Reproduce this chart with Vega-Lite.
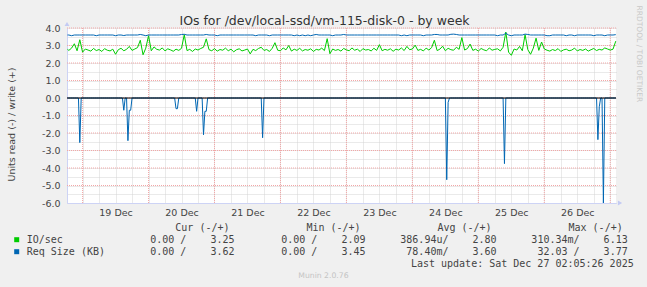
{
 "$schema": "https://vega.github.io/schema/vega-lite/v6.json",
 "width": 549,
 "height": 175,
 "autosize": {"type": "none"},
 "padding": {"left": 67, "top": 28, "right": 31, "bottom": 84},
 "background": "#f0f0f0",
 "title": {"text": "IOs for /dev/local-ssd/vm-115-disk-0 - by week", "font": "DejaVu Sans", "fontSize": 12.5, "fontWeight": "normal", "color": "#333333", "anchor": "middle", "frame": "group", "dx": -17, "baseline": "middle", "offset": -28.5},
 "config": {"view": {"fill": "white", "stroke": null}, "font": "DejaVu Sans"},
 "datasets": {
  "series": [
   {"t":"2025-12-18T18:30","g":2.78,"b":3.6},{"t":"2025-12-18T19:00","g":2.72,"b":3.6},{"t":"2025-12-18T20:00","g":2.85,"b":3.56},{"t":"2025-12-18T21:00","g":3.10,"b":3.6},{"t":"2025-12-18T22:00","g":2.70,"b":3.6},{"t":"2025-12-18T23:00","g":3.33,"b":3.6},
   {"t":"2025-12-19T00:00","g":2.62,"b":3.6},{"t":"2025-12-19T01:00","g":2.80,"b":3.6},{"t":"2025-12-19T02:00","g":2.74,"b":3.6},{"t":"2025-12-19T03:00","g":2.68,"b":3.6},{"t":"2025-12-19T04:00","g":2.83,"b":3.6},{"t":"2025-12-19T05:00","g":2.71,"b":3.56},{"t":"2025-12-19T06:00","g":2.77,"b":3.6},{"t":"2025-12-19T07:00","g":2.66,"b":3.6},{"t":"2025-12-19T08:00","g":2.82,"b":3.6},{"t":"2025-12-19T09:00","g":2.73,"b":3.6},{"t":"2025-12-19T10:00","g":2.69,"b":3.6},{"t":"2025-12-19T11:00","g":2.79,"b":3.6},{"t":"2025-12-19T12:00","g":2.50,"b":3.56},{"t":"2025-12-19T13:00","g":2.76,"b":3.6},{"t":"2025-12-19T14:00","g":2.84,"b":3.6},{"t":"2025-12-19T15:00","g":2.70,"b":3.57},{"t":"2025-12-19T16:00","g":2.78,"b":3.6},{"t":"2025-12-19T17:00","g":2.95,"b":3.6},{"t":"2025-12-19T18:00","g":2.72,"b":3.6},{"t":"2025-12-19T19:00","g":2.80,"b":3.6},{"t":"2025-12-19T20:00","g":2.88,"b":3.6},{"t":"2025-12-19T21:00","g":3.30,"b":3.63},{"t":"2025-12-19T22:00","g":2.47,"b":3.6},{"t":"2025-12-19T23:00","g":2.85,"b":3.56},
   {"t":"2025-12-20T00:00","g":3.56,"b":3.6},{"t":"2025-12-20T01:00","g":2.70,"b":3.6},{"t":"2025-12-20T02:00","g":2.92,"b":3.6},{"t":"2025-12-20T03:00","g":2.78,"b":3.6},{"t":"2025-12-20T04:00","g":2.74,"b":3.6},{"t":"2025-12-20T05:00","g":2.86,"b":3.6},{"t":"2025-12-20T06:00","g":2.69,"b":3.6},{"t":"2025-12-20T07:00","g":2.81,"b":3.6},{"t":"2025-12-20T08:00","g":2.75,"b":3.6},{"t":"2025-12-20T09:00","g":2.67,"b":3.6},{"t":"2025-12-20T10:00","g":2.79,"b":3.6},{"t":"2025-12-20T11:00","g":2.72,"b":3.6},{"t":"2025-12-20T12:00","g":2.84,"b":3.63},{"t":"2025-12-20T13:00","g":3.62,"b":3.64},{"t":"2025-12-20T14:00","g":2.71,"b":3.6},{"t":"2025-12-20T15:00","g":2.78,"b":3.6},{"t":"2025-12-20T16:00","g":2.66,"b":3.6},{"t":"2025-12-20T17:00","g":2.80,"b":3.6},{"t":"2025-12-20T18:00","g":2.74,"b":3.6},{"t":"2025-12-20T19:00","g":2.83,"b":3.6},{"t":"2025-12-20T20:00","g":2.90,"b":3.6},{"t":"2025-12-20T21:00","g":3.38,"b":3.63},{"t":"2025-12-20T22:00","g":2.76,"b":3.6},{"t":"2025-12-20T23:00","g":2.70,"b":3.6},
   {"t":"2025-12-21T00:00","g":2.82,"b":3.6},{"t":"2025-12-21T01:00","g":2.68,"b":3.56},{"t":"2025-12-21T02:00","g":2.77,"b":3.6},{"t":"2025-12-21T03:00","g":2.73,"b":3.6},{"t":"2025-12-21T04:00","g":2.85,"b":3.6},{"t":"2025-12-21T05:00","g":2.70,"b":3.6},{"t":"2025-12-21T06:00","g":2.79,"b":3.6},{"t":"2025-12-21T07:00","g":2.64,"b":3.6},{"t":"2025-12-21T08:00","g":2.76,"b":3.6},{"t":"2025-12-21T09:00","g":2.81,"b":3.6},{"t":"2025-12-21T10:00","g":2.69,"b":3.6},{"t":"2025-12-21T11:00","g":2.74,"b":3.6},{"t":"2025-12-21T12:00","g":2.80,"b":3.6},{"t":"2025-12-21T13:00","g":2.52,"b":3.6},{"t":"2025-12-21T14:00","g":2.78,"b":3.6},{"t":"2025-12-21T15:00","g":2.71,"b":3.56},{"t":"2025-12-21T16:00","g":2.83,"b":3.6},{"t":"2025-12-21T17:00","g":2.90,"b":3.6},{"t":"2025-12-21T18:00","g":2.72,"b":3.6},{"t":"2025-12-21T19:00","g":2.77,"b":3.6},{"t":"2025-12-21T20:00","g":2.66,"b":3.56},{"t":"2025-12-21T21:00","g":2.84,"b":3.6},{"t":"2025-12-21T22:00","g":3.16,"b":3.6},{"t":"2025-12-21T23:00","g":2.73,"b":3.6},
   {"t":"2025-12-22T00:00","g":2.70,"b":3.6},{"t":"2025-12-22T01:00","g":2.86,"b":3.6},{"t":"2025-12-22T02:00","g":2.75,"b":3.6},{"t":"2025-12-22T03:00","g":3.00,"b":3.6},{"t":"2025-12-22T04:00","g":2.68,"b":3.6},{"t":"2025-12-22T05:00","g":2.79,"b":3.56},{"t":"2025-12-22T06:00","g":2.72,"b":3.6},{"t":"2025-12-22T07:00","g":2.84,"b":3.56},{"t":"2025-12-22T08:00","g":2.69,"b":3.6},{"t":"2025-12-22T09:00","g":2.77,"b":3.56},{"t":"2025-12-22T10:00","g":2.73,"b":3.6},{"t":"2025-12-22T11:00","g":2.81,"b":3.56},{"t":"2025-12-22T12:00","g":2.66,"b":3.6},{"t":"2025-12-22T13:00","g":2.78,"b":3.63},{"t":"2025-12-22T14:00","g":2.74,"b":3.6},{"t":"2025-12-22T15:00","g":2.85,"b":3.6},{"t":"2025-12-22T16:00","g":2.71,"b":3.6},{"t":"2025-12-22T17:00","g":3.39,"b":3.6},{"t":"2025-12-22T18:00","g":2.53,"b":3.6},{"t":"2025-12-22T19:00","g":2.80,"b":3.56},{"t":"2025-12-22T20:00","g":2.72,"b":3.6},{"t":"2025-12-22T21:00","g":2.77,"b":3.6},{"t":"2025-12-22T22:00","g":2.68,"b":3.6},{"t":"2025-12-22T23:00","g":2.83,"b":3.63},
   {"t":"2025-12-23T00:00","g":2.75,"b":3.6},{"t":"2025-12-23T01:00","g":2.70,"b":3.6},{"t":"2025-12-23T02:00","g":2.86,"b":3.6},{"t":"2025-12-23T03:00","g":2.73,"b":3.6},{"t":"2025-12-23T04:00","g":2.79,"b":3.6},{"t":"2025-12-23T05:00","g":2.66,"b":3.6},{"t":"2025-12-23T06:00","g":2.82,"b":3.6},{"t":"2025-12-23T07:00","g":2.74,"b":3.6},{"t":"2025-12-23T08:00","g":2.77,"b":3.6},{"t":"2025-12-23T09:00","g":2.69,"b":3.6},{"t":"2025-12-23T10:00","g":2.84,"b":3.6},{"t":"2025-12-23T11:00","g":2.72,"b":3.6},{"t":"2025-12-23T12:00","g":3.05,"b":3.6},{"t":"2025-12-23T13:00","g":2.70,"b":3.6},{"t":"2025-12-23T14:00","g":2.78,"b":3.6},{"t":"2025-12-23T15:00","g":2.73,"b":3.6},{"t":"2025-12-23T16:00","g":2.81,"b":3.6},{"t":"2025-12-23T17:00","g":2.67,"b":3.6},{"t":"2025-12-23T18:00","g":2.79,"b":3.6},{"t":"2025-12-23T19:00","g":2.74,"b":3.6},{"t":"2025-12-23T20:00","g":2.86,"b":3.56},{"t":"2025-12-23T21:00","g":2.71,"b":3.6},{"t":"2025-12-23T22:00","g":2.95,"b":3.56},{"t":"2025-12-23T23:00","g":2.76,"b":3.6},
   {"t":"2025-12-24T00:00","g":2.80,"b":3.6},{"t":"2025-12-24T01:00","g":3.02,"b":3.6},{"t":"2025-12-24T02:00","g":2.72,"b":3.6},{"t":"2025-12-24T03:00","g":2.78,"b":3.6},{"t":"2025-12-24T04:00","g":2.69,"b":3.56},{"t":"2025-12-24T05:00","g":2.85,"b":3.6},{"t":"2025-12-24T06:00","g":2.74,"b":3.6},{"t":"2025-12-24T07:00","g":2.88,"b":3.6},{"t":"2025-12-24T08:00","g":3.30,"b":3.63},{"t":"2025-12-24T09:00","g":2.71,"b":3.63},{"t":"2025-12-24T10:00","g":2.79,"b":3.6},{"t":"2025-12-24T11:00","g":2.96,"b":3.6},{"t":"2025-12-24T12:00","g":2.70,"b":3.6},{"t":"2025-12-24T13:00","g":2.84,"b":3.6},{"t":"2025-12-24T14:00","g":2.76,"b":3.64},{"t":"2025-12-24T15:00","g":2.73,"b":3.65},{"t":"2025-12-24T16:00","g":2.90,"b":3.63},{"t":"2025-12-24T17:00","g":2.78,"b":3.6},{"t":"2025-12-24T18:00","g":3.45,"b":3.6},{"t":"2025-12-24T19:00","g":2.74,"b":3.6},{"t":"2025-12-24T20:00","g":2.82,"b":3.6},{"t":"2025-12-24T21:00","g":3.08,"b":3.6},{"t":"2025-12-24T22:00","g":2.72,"b":3.6},{"t":"2025-12-24T23:00","g":2.79,"b":3.6},
   {"t":"2025-12-25T00:00","g":2.68,"b":3.6},{"t":"2025-12-25T01:00","g":2.83,"b":3.6},{"t":"2025-12-25T02:00","g":2.75,"b":3.6},{"t":"2025-12-25T03:00","g":2.70,"b":3.6},{"t":"2025-12-25T04:00","g":2.86,"b":3.6},{"t":"2025-12-25T05:00","g":2.73,"b":3.6},{"t":"2025-12-25T06:00","g":2.78,"b":3.6},{"t":"2025-12-25T07:00","g":2.81,"b":3.56},{"t":"2025-12-25T08:00","g":2.69,"b":3.6},{"t":"2025-12-25T09:00","g":2.90,"b":3.6},{"t":"2025-12-25T10:00","g":3.77,"b":3.70},{"t":"2025-12-25T11:00","g":2.62,"b":3.6},{"t":"2025-12-25T12:00","g":2.44,"b":3.56},{"t":"2025-12-25T13:00","g":2.80,"b":3.6},{"t":"2025-12-25T14:00","g":2.74,"b":3.6},{"t":"2025-12-25T15:00","g":2.95,"b":3.6},{"t":"2025-12-25T16:00","g":2.70,"b":3.6},{"t":"2025-12-25T17:00","g":3.62,"b":3.65},{"t":"2025-12-25T18:00","g":2.76,"b":3.63},{"t":"2025-12-25T19:00","g":2.50,"b":3.6},{"t":"2025-12-25T20:00","g":2.85,"b":3.6},{"t":"2025-12-25T21:00","g":3.42,"b":3.6},{"t":"2025-12-25T22:00","g":2.72,"b":3.6},{"t":"2025-12-25T23:00","g":3.20,"b":3.6},
   {"t":"2025-12-26T00:00","g":2.80,"b":3.6},{"t":"2025-12-26T01:00","g":2.73,"b":3.56},{"t":"2025-12-26T02:00","g":2.68,"b":3.56},{"t":"2025-12-26T03:00","g":2.77,"b":3.6},{"t":"2025-12-26T04:00","g":2.71,"b":3.6},{"t":"2025-12-26T05:00","g":2.82,"b":3.6},{"t":"2025-12-26T06:00","g":2.66,"b":3.6},{"t":"2025-12-26T07:00","g":2.75,"b":3.6},{"t":"2025-12-26T08:00","g":2.79,"b":3.56},{"t":"2025-12-26T09:00","g":2.70,"b":3.6},{"t":"2025-12-26T10:00","g":2.74,"b":3.6},{"t":"2025-12-26T11:00","g":2.85,"b":3.56},{"t":"2025-12-26T12:00","g":2.69,"b":3.6},{"t":"2025-12-26T13:00","g":2.77,"b":3.6},{"t":"2025-12-26T14:00","g":2.72,"b":3.6},{"t":"2025-12-26T15:00","g":2.80,"b":3.6},{"t":"2025-12-26T16:00","g":2.68,"b":3.6},{"t":"2025-12-26T17:00","g":2.76,"b":3.6},{"t":"2025-12-26T18:00","g":2.83,"b":3.56},{"t":"2025-12-26T19:00","g":2.71,"b":3.6},{"t":"2025-12-26T20:00","g":2.78,"b":3.6},{"t":"2025-12-26T21:00","g":2.74,"b":3.6},{"t":"2025-12-26T22:00","g":2.86,"b":3.56},{"t":"2025-12-26T23:00","g":2.80,"b":3.6},
   {"t":"2025-12-27T00:00","g":2.74,"b":3.6},{"t":"2025-12-27T01:00","g":2.79,"b":3.6},{"t":"2025-12-27T02:00","g":3.25,"b":3.62}
  ],
  "reads": [
   {"t":"2025-12-18T18:30","v":0},{"t":"2025-12-18T22:30","v":0},{"t":"2025-12-18T23:00","v":-2.55},{"t":"2025-12-18T23:30","v":0},
   {"t":"2025-12-19T14:30","v":0},{"t":"2025-12-19T15:00","v":-0.7},{"t":"2025-12-19T15:30","v":0},{"t":"2025-12-19T16:00","v":0},{"t":"2025-12-19T16:30","v":-2.44},{"t":"2025-12-19T17:00","v":-0.7},{"t":"2025-12-19T17:30","v":-0.7},{"t":"2025-12-19T18:00","v":0},
   {"t":"2025-12-20T09:30","v":0},{"t":"2025-12-20T10:00","v":-0.61},{"t":"2025-12-20T10:30","v":-0.61},{"t":"2025-12-20T11:00","v":0},
   {"t":"2025-12-20T17:00","v":0},{"t":"2025-12-20T17:30","v":-0.76},{"t":"2025-12-20T18:00","v":0},
   {"t":"2025-12-20T19:30","v":0},{"t":"2025-12-20T20:00","v":-2.1},{"t":"2025-12-20T20:30","v":-0.76},{"t":"2025-12-20T21:00","v":-0.76},{"t":"2025-12-20T21:30","v":0},
   {"t":"2025-12-21T17:00","v":0},{"t":"2025-12-21T17:30","v":-2.27},{"t":"2025-12-21T18:00","v":0},
   {"t":"2025-12-24T12:00","v":0},{"t":"2025-12-24T12:30","v":-4.67},{"t":"2025-12-24T13:00","v":-0.25},{"t":"2025-12-24T13:30","v":0},
   {"t":"2025-12-25T09:00","v":0},{"t":"2025-12-25T09:30","v":-3.75},{"t":"2025-12-25T10:00","v":0},
   {"t":"2025-12-26T19:00","v":0},{"t":"2025-12-26T19:30","v":-2.38},{"t":"2025-12-26T20:00","v":-0.5},{"t":"2025-12-26T20:30","v":0},{"t":"2025-12-26T21:00","v":0},{"t":"2025-12-26T21:30","v":-6.0},{"t":"2025-12-26T22:00","v":0},
   {"t":"2025-12-27T02:00","v":0}
  ],
  "days": [
   {"t":"2025-12-19T00:00"},{"t":"2025-12-20T00:00"},{"t":"2025-12-21T00:00"},{"t":"2025-12-22T00:00"},{"t":"2025-12-23T00:00"},{"t":"2025-12-24T00:00"},{"t":"2025-12-25T00:00"},{"t":"2025-12-26T00:00"},{"t":"2025-12-27T00:00"}
  ],
  "units": [
   {"v":-5},{"v":-4},{"v":-3},{"v":-2},{"v":-1},{"v":0},{"v":1},{"v":2},{"v":3},{"v":4}
  ],
  "xend": [{"t":"2025-12-27T02:05","v":-6}],
  "ytop": [{"t":"2025-12-18T18:20","v":4}],
  "labels": [
   {"row":1,"col":1,"txt":"IO/sec"},
   {"row":2,"col":1,"txt":"Req Size (KB)"}
  ],
  "heads": [
   {"row":0,"col":1,"txt":"Cur (-/+)"},{"row":0,"col":2,"txt":"Min (-/+)"},{"row":0,"col":3,"txt":"Avg (-/+)"},{"row":0,"col":4,"txt":"Max (-/+)"}
  ],
  "cells": [
   {"row":1,"col":1,"txt":"0.00\u00a0/\u00a0\u00a0\u00a0\u00a03.25"},
   {"row":1,"col":2,"txt":"0.00\u00a0/\u00a0\u00a0\u00a0\u00a02.09"},
   {"row":1,"col":3,"txt":"386.94u/\u00a0\u00a0\u00a0\u00a02.80"},
   {"row":1,"col":4,"txt":"310.34m/\u00a0\u00a0\u00a0\u00a06.13"},
   {"row":2,"col":1,"txt":"0.00\u00a0/\u00a0\u00a0\u00a0\u00a03.62"},
   {"row":2,"col":2,"txt":"0.00\u00a0/\u00a0\u00a0\u00a0\u00a03.45"},
   {"row":2,"col":3,"txt":"78.40m/\u00a0\u00a0\u00a0\u00a03.60"},
   {"row":2,"col":4,"txt":"32.03\u00a0/\u00a0\u00a0\u00a0\u00a03.77"}
  ],
  "upd": [
   {"row":3,"col":4,"txt":"Last update: Sat Dec 27 02:05:26 2025"}
  ]
 },
 "layer": [
  {
   "layer": [
    {
     "data": {"name": "days"},
     "mark": {"type": "rule", "color": "#f3a6a6", "strokeWidth": 1, "strokeDash": [1, 1]},
     "encoding": {
      "x": {"field": "t", "type": "temporal",
       "scale": {"domain": [{"year":2025,"month":12,"date":18,"hours":18,"minutes":20},{"year":2025,"month":12,"date":27,"hours":2,"minutes":5}], "nice": false},
       "axis": {"orient": "bottom", "tickCount": 40, "ticks": false, "grid": true, "gridColor": "#d4d4d4",
        "gridDash": [1, 1], "domainColor": "#cdd3f5",
        "labelExpr": "hours(datum.value) == 12 ? timeFormat(datum.value, '%d %b') : ''",
        "labelFont": "DejaVu Sans", "labelFontSize": 9.5, "labelColor": "#444444", "labelPadding": 4,
        "labelOverlap": false, "labelFlush": false,
        "title": "Munin 2.0.76", "titleFont": "DejaVu Sans", "titleFontSize": 7.7, "titleFontWeight": "normal", "titleColor": "#c4c4c4",
        "titleX": 255.9, "titleY": 72.7, "titleAlign": "center", "titleBaseline": "middle"}}
     }
    },
    {
     "data": {"name": "units"},
     "mark": {"type": "rule", "color": "#f3a6a6", "strokeWidth": 1, "strokeDash": [1, 1]},
     "encoding": {
      "y": {"field": "v", "type": "quantitative",
       "scale": {"domain": [-6, 4], "nice": false, "zero": false},
       "axis": {"orient": "left", "values": [-6,-5.5,-5,-4.5,-4,-3.5,-3,-2.5,-2,-1.5,-1,-0.5,0,0.5,1,1.5,2,2.5,3,3.5,4], "tickCount": 30,
        "ticks": false, "grid": true, "gridColor": "#d4d4d4",
        "gridDash": [1, 1], "domainColor": "#cdd3f5",
        "labelExpr": "datum.value % 1 == 0 ? (datum.value < 0 ? '-' : '') + format(abs(datum.value), '.1f') : ''",
        "labelFont": "DejaVu Sans", "labelFontSize": 9.5, "labelColor": "#444444", "labelPadding": 7,
        "labelOverlap": false, "labelFlush": false,
        "title": "Units read (-) / write (+)", "titleFont": "DejaVu Sans", "titleFontSize": 9.5, "titleFontWeight": "normal", "titleColor": "#444444",
        "titleX": -56, "titleY": 96, "titleAlign": "center", "titleBaseline": "middle"}}
     }
    },
    {
     "data": {"name": "series"},
     "mark": {"type": "line", "color": "#00cc00", "strokeWidth": 1},
     "encoding": {
      "x": {"field": "t", "type": "temporal"},
      "y": {"field": "g", "type": "quantitative"}
     }
    },
    {
     "data": {"name": "series"},
     "mark": {"type": "line", "color": "#0066b3", "strokeWidth": 1},
     "encoding": {
      "x": {"field": "t", "type": "temporal"},
      "y": {"field": "b", "type": "quantitative"}
     }
    },
    {
     "data": {"name": "reads"},
     "mark": {"type": "line", "color": "#0066b3", "strokeWidth": 1},
     "encoding": {
      "x": {"field": "t", "type": "temporal"},
      "y": {"field": "v", "type": "quantitative"}
     }
    },
    {
     "data": {"values": [{"z": 0}]},
     "mark": {"type": "rule", "color": "#000000", "strokeWidth": 1},
     "encoding": {"y": {"field": "z", "type": "quantitative"}}
    },
    {
     "data": {"name": "xend"},
     "mark": {"type": "point", "shape": "triangle-right", "filled": true, "size": 24, "color": "#c3caf3", "opacity": 1, "xOffset": 4},
     "encoding": {
      "x": {"field": "t", "type": "temporal"},
      "y": {"field": "v", "type": "quantitative"}
     }
    },
    {
     "data": {"name": "ytop"},
     "mark": {"type": "point", "shape": "triangle-up", "filled": true, "size": 24, "color": "#c3caf3", "opacity": 1, "yOffset": -4},
     "encoding": {
      "x": {"field": "t", "type": "temporal"},
      "y": {"field": "v", "type": "quantitative"}
     }
    }
   ]
  },
  {
   "layer": [
    {
     "data": {"name": "labels"},
     "mark": {"type": "point", "shape": "square", "filled": true, "size": 25, "opacity": 1, "xOffset": -217.8},
     "encoding": {
      "x": {"field": "col", "type": "quantitative", "scale": {"domain": [1, 4], "range": [167.5, 560.7], "nice": false, "zero": false}, "axis": null},
      "y": {"field": "row", "type": "quantitative", "scale": {"domain": [0, 3], "range": [199.7, 235.7], "nice": false, "zero": false},
       "axis": {"orient": "right", "labels": false, "ticks": false, "domain": false, "grid": false,
        "title": "RRDTOOL / TOBI OETIKER", "titleFont": "DejaVu Sans", "titleFontSize": 7.5, "titleFontWeight": "normal", "titleColor": "#c8c8c8",
        "titleAngle": 90, "titleX": 22.3, "titleY": 25.3, "titleAlign": "center", "titleBaseline": "middle"}},
      "color": {"field": "txt", "type": "nominal", "scale": {"domain": ["IO/sec", "Req Size (KB)"], "range": ["#00cc00", "#0066b3"]}, "legend": null}
     }
    },
    {
     "data": {"name": "labels"},
     "mark": {"type": "text", "align": "left", "baseline": "middle", "font": "DejaVu Sans Mono", "fontSize": 10, "color": "#444444", "dx": -207.8},
     "encoding": {
      "x": {"field": "col", "type": "quantitative", "axis": null},
      "y": {"field": "row", "type": "quantitative"},
      "text": {"field": "txt", "type": "nominal"}
     }
    },
    {
     "data": {"name": "heads"},
     "mark": {"type": "text", "align": "right", "baseline": "middle", "font": "DejaVu Sans Mono", "fontSize": 10, "color": "#444444", "dx": -5},
     "encoding": {
      "x": {"field": "col", "type": "quantitative", "axis": null},
      "y": {"field": "row", "type": "quantitative"},
      "text": {"field": "txt", "type": "nominal"}
     }
    },
    {
     "data": {"name": "cells"},
     "mark": {"type": "text", "align": "right", "baseline": "middle", "font": "DejaVu Sans Mono", "fontSize": 10, "color": "#444444"},
     "encoding": {
      "x": {"field": "col", "type": "quantitative", "axis": null},
      "y": {"field": "row", "type": "quantitative"},
      "text": {"field": "txt", "type": "nominal"}
     }
    },
    {
     "data": {"name": "upd"},
     "mark": {"type": "text", "align": "right", "baseline": "middle", "font": "DejaVu Sans Mono", "fontSize": 10, "color": "#444444", "dx": 6},
     "encoding": {
      "x": {"field": "col", "type": "quantitative", "axis": null},
      "y": {"field": "row", "type": "quantitative"},
      "text": {"field": "txt", "type": "nominal"}
     }
    }
   ]
  }
 ],
 "resolve": {"scale": {"x": "independent", "y": "independent"}, "axis": {"x": "independent", "y": "independent"}}
}
